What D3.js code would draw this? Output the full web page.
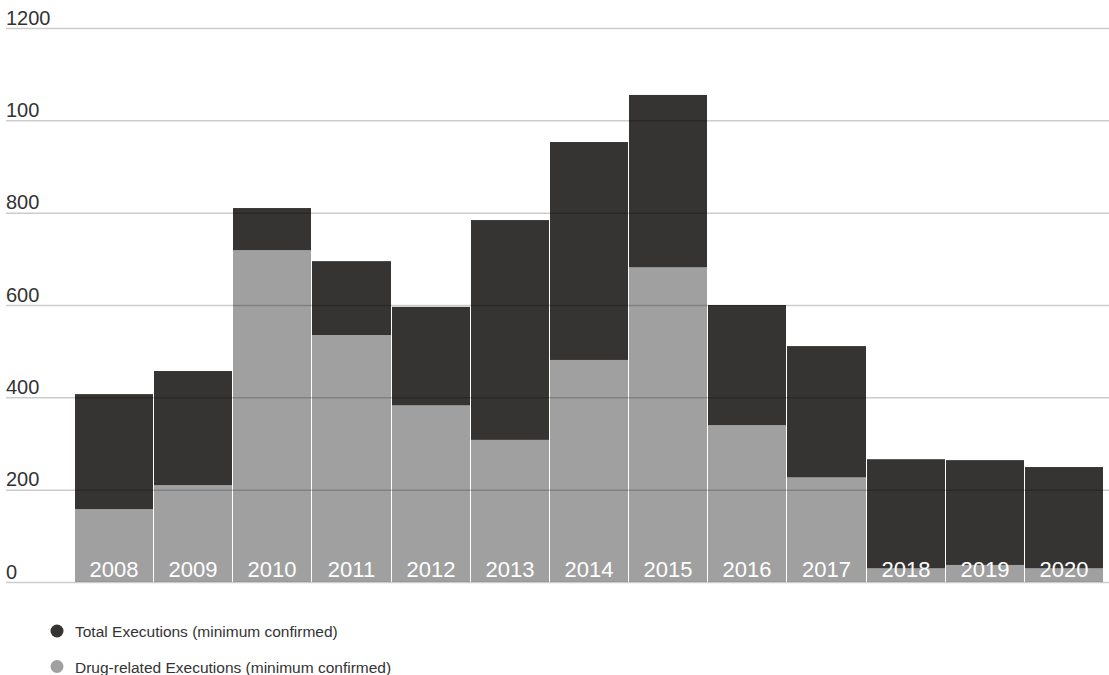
<!DOCTYPE html>
<html>
<head>
<meta charset="utf-8">
<script src="https://cdn.jsdelivr.net/npm/d3@7"></script>
<style>
  body { margin: 0; background: #fff; }
  svg { display: block; font-family: "Liberation Sans", Arial, sans-serif; }
</style>
</head>
<body>
<svg width="1109" height="675"></svg>
<script>
// values
const years = ["2008", "2009", "2010", "2011", "2012", "2013", "2014", "2015", "2016", "2017", "2018", "2019", "2020"];
const totalExecutions = [407, 457, 810, 695, 596, 784, 953, 1055, 600, 511, 266, 264, 249];
const drugExecutions = [158, 210, 719, 535, 383, 308, 481, 682, 340, 227, 30, 37, 30];

const tickValues = [0, 200, 400, 600, 800, 1000, 1200];
const tickLabels = ["0", "200", "400", "600", "800", "100", "1200"]; // "100" as printed on the original

const legendLabels = ["Total Executions (minimum confirmed)", "Drug-related Executions (minimum confirmed)"];

const darkColor = "#353432",
      greyColor = "#a0a0a0";

let svg = d3.select("svg");

let x = d3.scaleBand()
  .domain(years)
  .range([75, 1104])
  .padding(0);

let y = d3.scaleLinear()
  .domain([0, 1200])
  .range([582, 28]);

let data = years.map((yr, i) => ({year: yr, total: totalExecutions[i], drug: drugExecutions[i]}));

// whole-pixel bar edges with a 1px white gap between bars
const barX = d => Math.round(x(d.year));
const barW = d => Math.round(x(d.year) + x.bandwidth()) - barX(d) - 1;

// total bars
svg.append("g")
  .selectAll("rect")
  .data(data)
  .enter()
  .append("rect")
  .attr("x", barX)
  .attr("y", d => y(d.total))
  .attr("width", barW)
  .attr("height", d => y(0) - y(d.total))
  .attr("fill", darkColor);

// drug-related bars sit over the total bars
svg.append("g")
  .selectAll("rect")
  .data(data)
  .enter()
  .append("rect")
  .attr("x", barX)
  .attr("y", d => y(d.drug))
  .attr("width", barW)
  .attr("height", d => y(0) - y(d.drug))
  .attr("fill", greyColor);

// gridlines drawn on top, translucent so they darken the bars
let grid = svg.append("g")
  .attr("transform", "translate(6,0)")
  .call(d3.axisRight(y).tickValues(tickValues).tickSize(1103).tickFormat((d, i) => tickLabels[i]));

grid.select(".domain").remove();
grid.selectAll(".tick line")
  .attr("stroke", "rgba(0,0,0,0.2)")
  .attr("stroke-width", 1.5);
grid.selectAll(".tick text")
  .attr("x", 0)
  .attr("dy", -4)
  .attr("text-anchor", "start")
  .attr("fill", "#333")
  .attr("font-size", 20);

// year labels inside the bars
svg.append("g")
  .selectAll("text")
  .data(data)
  .enter()
  .append("text")
  .attr("x", d => barX(d) + barW(d) / 2)
  .attr("y", 577)
  .attr("text-anchor", "middle")
  .attr("fill", "#fff")
  .attr("font-size", 22)
  .text(d => d.year);

// legend
let legend = svg.append("g")
  .selectAll("g")
  .data(legendLabels)
  .enter()
  .append("g")
  .attr("transform", (d, i) => `translate(57, ${631 + i * 35.5})`);

legend.append("circle")
  .attr("r", 6.5)
  .attr("fill", (d, i) => i === 0 ? darkColor : greyColor);

legend.append("text")
  .attr("x", 18)
  .attr("y", 6)
  .attr("fill", "#333")
  .attr("font-size", 15.5)
  .text(d => d);
</script>
</body>
</html>
